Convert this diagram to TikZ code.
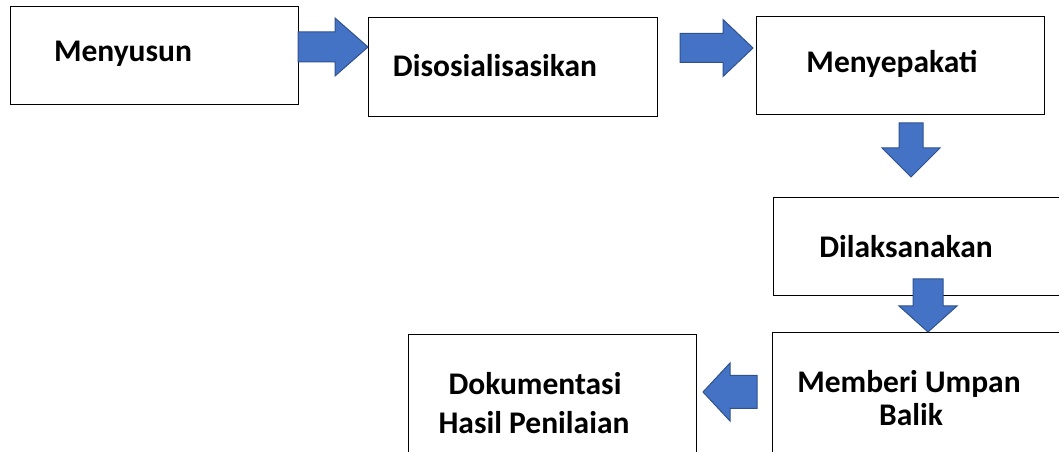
\documentclass[tikz,border=0pt]{standalone}
\usepackage{fontspec}
\setmainfont{Carlito}
\definecolor{arrowfill}{HTML}{4472C4}
\definecolor{arrowline}{HTML}{2F528F}
% #1 start coordinate, #2 rotation, #3 length, #4 head length, #5 shaft half width, #6 head half width
\newcommand\blockarrow[6]{\draw[blockarrow,shift={(#1)},rotate=#2] (0,#5) -- ({#3-#4},#5) -- ({#3-#4},#6) -- (#3,0) -- ({#3-#4},-#6) -- ({#3-#4},-#5) -- (0,-#5) -- cycle;}
\begin{document}
\begin{tikzpicture}[x=1bp,y=-1bp,
  box/.style={draw=black,line width=1.4bp,inner sep=0pt,anchor=north west},
  txt/.style={anchor=base,inner sep=0pt,font=\fontsize{31.5bp}{38bp}\selectfont\bfseries},
  blockarrow/.style={fill=arrowfill,draw=arrowline,line width=1bp,line join=miter}]
\useasboundingbox (0,0) rectangle (1059,452);
\clip (0,0) rectangle (1059,452);
% boxes
\node[box,minimum width=288bp,minimum height=98bp] (b1) at (10,6) {};
\node[box,minimum width=289bp,minimum height=99bp] (b2) at (368,17) {};
\node[box,minimum width=288bp,minimum height=98bp] (b3) at (756,16) {};
\node[box,minimum width=300bp,minimum height=98bp] (b4) at (773,197) {};
\node[box,minimum width=300bp,minimum height=140bp] (b5) at (772,332) {};
\node[box,minimum width=288bp,minimum height=140bp] (b6) at (408,334) {};
% texts
\node[txt] (t1) at (123,62) {Menyusun};
\node[txt] (t2) at (495,77) {Disosialisasikan};
\node[txt] (t3) at (892,73) {Menyepakati};
\node[txt] (t4) at (906,258) {Dilaksanakan};
\node[txt] (t5a) at (909,393) {Memberi Umpan};
\node[txt] (t5b) at (911,425) {Balik};
\node[txt] (t6a) at (535,395) {Dokumentasi};
\node[txt] (t6b) at (534,433) {Hasil Penilaian};
% block arrows
\coordinate (a1) at (298,47);
\coordinate (a2) at (680,48);
\coordinate (a3) at (911,123);
\coordinate (a4) at (928,279);
\coordinate (a5) at (757,392);
\blockarrow{a1}{0}{70}{33}{15}{29}
\blockarrow{a2}{0}{73}{30}{14.5}{28.5}
\blockarrow{a3}{-90}{54}{29}{12}{29}
\blockarrow{a4}{-90}{53}{26}{15}{29}
\blockarrow{a5}{180}{54}{27}{16.5}{29}
\end{tikzpicture}
\end{document}
